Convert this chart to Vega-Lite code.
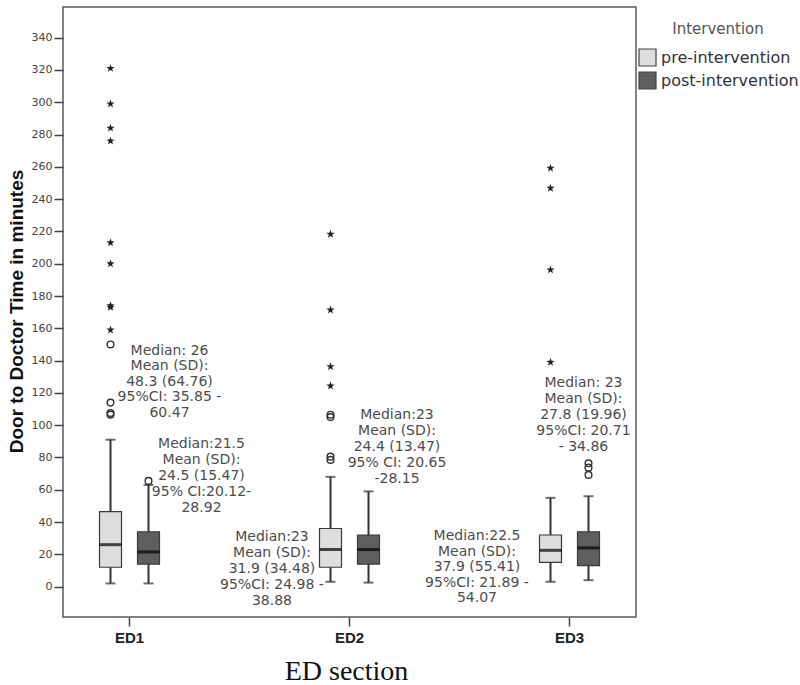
{
  "$schema": "https://vega.github.io/schema/vega-lite/v6.json",
  "width": 573,
  "height": 610,
  "autosize": {"type": "none"},
  "padding": {"left": 63, "top": 7, "right": 164, "bottom": 68},
  "background": "white",
  "config": {
    "view": {"stroke": "#5a5a5a", "strokeWidth": 1.5},
    "font": "DejaVu Sans",
    "axisY": {
      "domain": false,
      "grid": false,
      "tickSize": 9,
      "tickColor": "#444",
      "tickWidth": 1.5,
      "labelFont": "DejaVu Sans",
      "labelFontSize": 11,
      "labelColor": "#444",
      "labelPadding": 2,
      "labelOverlap": false,
      "titleFont": "Liberation Sans",
      "titleFontSize": 19,
      "titleFontWeight": "bold",
      "titleColor": "#111",
      "titleAngle": -90,
      "titleAlign": "center",
      "titleBaseline": "alphabetic",
      "titleX": -41,
      "titleY": 304
    }
  },
  "datasets": {
    "boxes": [
      {"section": "ED1", "group": "pre-intervention", "lo": 2, "q1": 12, "med": 26, "q3": 46.5, "hi": 91},
      {"section": "ED1", "group": "post-intervention", "lo": 2, "q1": 14, "med": 21.5, "q3": 34, "hi": 63},
      {"section": "ED2", "group": "pre-intervention", "lo": 3, "q1": 12, "med": 23, "q3": 36, "hi": 68},
      {"section": "ED2", "group": "post-intervention", "lo": 2.5, "q1": 14, "med": 23, "q3": 32, "hi": 59},
      {"section": "ED3", "group": "pre-intervention", "lo": 3, "q1": 15, "med": 22.5, "q3": 32, "hi": 55},
      {"section": "ED3", "group": "post-intervention", "lo": 4, "q1": 13, "med": 24, "q3": 34, "hi": 56}
    ],
    "outliers": [
      {"section": "ED1", "group": "pre-intervention", "value": 106.5, "kind": "circle"},
      {"section": "ED1", "group": "pre-intervention", "value": 107.5, "kind": "circle"},
      {"section": "ED1", "group": "pre-intervention", "value": 114, "kind": "circle"},
      {"section": "ED1", "group": "pre-intervention", "value": 150, "kind": "circle"},
      {"section": "ED1", "group": "pre-intervention", "value": 159, "kind": "star"},
      {"section": "ED1", "group": "pre-intervention", "value": 173, "kind": "star"},
      {"section": "ED1", "group": "pre-intervention", "value": 174, "kind": "star"},
      {"section": "ED1", "group": "pre-intervention", "value": 200, "kind": "star"},
      {"section": "ED1", "group": "pre-intervention", "value": 213, "kind": "star"},
      {"section": "ED1", "group": "pre-intervention", "value": 276, "kind": "star"},
      {"section": "ED1", "group": "pre-intervention", "value": 284, "kind": "star"},
      {"section": "ED1", "group": "pre-intervention", "value": 299, "kind": "star"},
      {"section": "ED1", "group": "pre-intervention", "value": 321, "kind": "star"},
      {"section": "ED1", "group": "post-intervention", "value": 65.5, "kind": "circle"},
      {"section": "ED2", "group": "pre-intervention", "value": 78.5, "kind": "circle"},
      {"section": "ED2", "group": "pre-intervention", "value": 80.5, "kind": "circle"},
      {"section": "ED2", "group": "pre-intervention", "value": 105, "kind": "circle"},
      {"section": "ED2", "group": "pre-intervention", "value": 106.5, "kind": "circle"},
      {"section": "ED2", "group": "pre-intervention", "value": 124.3, "kind": "star"},
      {"section": "ED2", "group": "pre-intervention", "value": 136.3, "kind": "star"},
      {"section": "ED2", "group": "pre-intervention", "value": 171.4, "kind": "star"},
      {"section": "ED2", "group": "pre-intervention", "value": 218.3, "kind": "star"},
      {"section": "ED3", "group": "pre-intervention", "value": 139, "kind": "star"},
      {"section": "ED3", "group": "pre-intervention", "value": 196.2, "kind": "star"},
      {"section": "ED3", "group": "pre-intervention", "value": 246.8, "kind": "star"},
      {"section": "ED3", "group": "pre-intervention", "value": 259.2, "kind": "star"},
      {"section": "ED3", "group": "post-intervention", "value": 69.2, "kind": "circle"},
      {"section": "ED3", "group": "post-intervention", "value": 73.7, "kind": "circle"},
      {"section": "ED3", "group": "post-intervention", "value": 76.4, "kind": "circle"}
    ],
    "notes": [
      {"id": 1, "section": "ED1", "group": "pre-intervention", "label": "Median: 26\nMean (SD):\n48.3 (64.76)\n95%CI: 35.85 -\n60.47"},
      {"id": 2, "section": "ED1", "group": "post-intervention", "label": "Median:21.5\nMean (SD):\n24.5 (15.47)\n95% CI:20.12-\n28.92"},
      {"id": 3, "section": "ED2", "group": "pre-intervention", "label": "Median:23\nMean (SD):\n31.9 (34.48)\n95%CI: 24.98 -\n38.88"},
      {"id": 4, "section": "ED2", "group": "post-intervention", "label": "Median:23\nMean (SD):\n24.4 (13.47)\n95% CI: 20.65\n-28.15"},
      {"id": 5, "section": "ED3", "group": "pre-intervention", "label": "Median:22.5\nMean (SD):\n37.9 (55.41)\n95%CI: 21.89 -\n54.07"},
      {"id": 6, "section": "ED3", "group": "post-intervention", "label": "Median: 23\nMean (SD):\n27.8 (19.96)\n95%CI: 20.71\n- 34.86"}
    ]
  },
  "encoding": {
    "x": {
      "field": "section",
      "type": "nominal",
      "title": "ED section",
      "scale": {"domain": ["ED1", "ED2", "ED3"], "paddingInner": 0.6, "paddingOuter": 0.1023},
      "axis": {
        "domain": false,
        "grid": false,
        "tickSize": 9,
        "tickColor": "#444",
        "tickWidth": 1.5,
        "labelAngle": 0,
        "labelFont": "Liberation Sans",
        "labelFontWeight": "bold",
        "labelFontSize": 15,
        "labelColor": "#222",
        "labelPadding": 4,
        "titleFont": "Liberation Serif",
        "titleFontSize": 28,
        "titleFontWeight": "normal",
        "titleColor": "#111",
        "titleX": 283,
        "titleY": 62,
        "titleBaseline": "alphabetic"
      }
    },
    "xOffset": {
      "field": "group",
      "type": "nominal",
      "scale": {"domain": ["pre-intervention", "post-intervention"], "paddingInner": 0.4211, "paddingOuter": 0.3684}
    }
  },
  "layer": [
    {
      "data": {"name": "boxes"},
      "mark": {"type": "rule", "color": "#333", "strokeWidth": 2},
      "encoding": {
        "y": {"field": "lo", "type": "quantitative", "title": "Door to Doctor Time in minutes", "scale": {"domain": [-18.8, 359], "nice": false, "zero": false}, "axis": {"values": [0, 20, 40, 60, 80, 100, 120, 140, 160, 180, 200, 220, 240, 260, 280, 300, 320, 340], "labelOverlap": false, "title": "Door to Doctor Time in minutes"}},
        "y2": {"field": "hi"}
      }
    },
    {
      "data": {"name": "boxes"},
      "mark": {"type": "bar", "stroke": "#3a3a3a", "strokeWidth": 1.2},
      "encoding": {
        "y": {"field": "q1", "type": "quantitative", "title": "Door to Doctor Time in minutes", "scale": {"domain": [-18.8, 359], "nice": false, "zero": false}, "axis": {"values": [0, 20, 40, 60, 80, 100, 120, 140, 160, 180, 200, 220, 240, 260, 280, 300, 320, 340], "labelOverlap": false, "title": "Door to Doctor Time in minutes"}},
        "y2": {"field": "q3"},
        "color": {
          "field": "group",
          "type": "nominal",
          "scale": {"domain": ["pre-intervention", "post-intervention"], "range": ["#dedede", "#5e5e5e"]},
          "legend": {
            "title": "Intervention",
            "orient": "none",
            "legendX": 575,
            "legendY": 15,
            "symbolType": "square",
            "symbolSize": 289,
            "symbolStrokeColor": "#444",
            "symbolStrokeWidth": 1.2,
            "labelFont": "DejaVu Sans",
            "labelFontSize": 16,
            "labelColor": "#333",
            "labelOffset": 4,
            "rowPadding": 0,
            "titleFont": "DejaVu Sans",
            "titleFontSize": 15,
            "titleFontWeight": "normal",
            "titleColor": "#555",
            "titleAnchor": "middle",
            "titlePadding": 11
          }
        }
      }
    },
    {
      "data": {"name": "boxes"},
      "mark": {"type": "tick", "color": "#333", "thickness": 2, "size": 10},
      "encoding": {
        "y": {"field": "lo", "type": "quantitative", "title": "Door to Doctor Time in minutes", "scale": {"domain": [-18.8, 359], "nice": false, "zero": false}, "axis": {"values": [0, 20, 40, 60, 80, 100, 120, 140, 160, 180, 200, 220, 240, 260, 280, 300, 320, 340], "labelOverlap": false, "title": "Door to Doctor Time in minutes"}}
      }
    },
    {
      "data": {"name": "boxes"},
      "mark": {"type": "tick", "color": "#333", "thickness": 2, "size": 10},
      "encoding": {
        "y": {"field": "hi", "type": "quantitative", "title": "Door to Doctor Time in minutes", "scale": {"domain": [-18.8, 359], "nice": false, "zero": false}, "axis": {"values": [0, 20, 40, 60, 80, 100, 120, 140, 160, 180, 200, 220, 240, 260, 280, 300, 320, 340], "labelOverlap": false, "title": "Door to Doctor Time in minutes"}}
      }
    },
    {
      "data": {"name": "boxes"},
      "mark": {"type": "tick", "color": "#000", "thickness": 3, "size": 22},
      "encoding": {
        "y": {"field": "med", "type": "quantitative", "title": "Door to Doctor Time in minutes", "scale": {"domain": [-18.8, 359], "nice": false, "zero": false}, "axis": {"values": [0, 20, 40, 60, 80, 100, 120, 140, 160, 180, 200, 220, 240, 260, 280, 300, 320, 340], "labelOverlap": false, "title": "Door to Doctor Time in minutes"}}
      }
    },
    {
      "data": {"name": "outliers"},
      "transform": [{"filter": "datum.kind == 'circle'"}],
      "mark": {"type": "point", "shape": "circle", "filled": false, "stroke": "#333", "strokeWidth": 1.4, "size": 45, "opacity": 1},
      "encoding": {
        "y": {"field": "value", "type": "quantitative", "title": "Door to Doctor Time in minutes", "scale": {"domain": [-18.8, 359], "nice": false, "zero": false}, "axis": {"values": [0, 20, 40, 60, 80, 100, 120, 140, 160, 180, 200, 220, 240, 260, 280, 300, 320, 340], "labelOverlap": false, "title": "Door to Doctor Time in minutes"}}
      }
    },
    {
      "data": {"name": "outliers"},
      "transform": [{"filter": "datum.kind == 'star'"}],
      "mark": {"type": "point", "shape": "M0,-1L0.2351,-0.3236L0.9511,-0.309L0.3804,0.1236L0.5878,0.809L0,0.4L-0.5878,0.809L-0.3804,0.1236L-0.9511,-0.309L-0.2351,-0.3236Z", "filled": true, "color": "#222", "size": 75, "opacity": 1},
      "encoding": {
        "y": {"field": "value", "type": "quantitative", "title": "Door to Doctor Time in minutes", "scale": {"domain": [-18.8, 359], "nice": false, "zero": false}, "axis": {"values": [0, 20, 40, 60, 80, 100, 120, 140, 160, 180, 200, 220, 240, 260, 280, 300, 320, 340], "labelOverlap": false, "title": "Door to Doctor Time in minutes"}}
      }
    },
    {
      "data": {"name": "notes"},
      "transform": [{"filter": "datum.id == 1"}],
      "mark": {"type": "text", "font": "DejaVu Sans", "fontSize": 14, "lineHeight": 15.6, "lineBreak": "\n", "align": "center", "baseline": "middle", "color": "#4d4d4d", "dx": 59},
      "encoding": {
        "y": {"datum": 146.2, "type": "quantitative", "scale": {"domain": [-18.8, 359], "nice": false, "zero": false}, "axis": {"values": [0, 20, 40, 60, 80, 100, 120, 140, 160, 180, 200, 220, 240, 260, 280, 300, 320, 340], "labelOverlap": false, "title": "Door to Doctor Time in minutes"}},
        "text": {"field": "label"}
      }
    },
    {
      "data": {"name": "notes"},
      "transform": [{"filter": "datum.id == 2"}],
      "mark": {"type": "text", "font": "DejaVu Sans", "fontSize": 14, "lineHeight": 16, "lineBreak": "\n", "align": "center", "baseline": "middle", "color": "#4d4d4d", "dx": 53},
      "encoding": {
        "y": {"datum": 88.4, "type": "quantitative", "scale": {"domain": [-18.8, 359], "nice": false, "zero": false}, "axis": {"values": [0, 20, 40, 60, 80, 100, 120, 140, 160, 180, 200, 220, 240, 260, 280, 300, 320, 340], "labelOverlap": false, "title": "Door to Doctor Time in minutes"}},
        "text": {"field": "label"}
      }
    },
    {
      "data": {"name": "notes"},
      "transform": [{"filter": "datum.id == 3"}],
      "mark": {"type": "text", "font": "DejaVu Sans", "fontSize": 14, "lineHeight": 16.2, "lineBreak": "\n", "align": "center", "baseline": "middle", "color": "#4d4d4d", "dx": -58.5},
      "encoding": {
        "y": {"datum": 31.0, "type": "quantitative", "scale": {"domain": [-18.8, 359], "nice": false, "zero": false}, "axis": {"values": [0, 20, 40, 60, 80, 100, 120, 140, 160, 180, 200, 220, 240, 260, 280, 300, 320, 340], "labelOverlap": false, "title": "Door to Doctor Time in minutes"}},
        "text": {"field": "label"}
      }
    },
    {
      "data": {"name": "notes"},
      "transform": [{"filter": "datum.id == 4"}],
      "mark": {"type": "text", "font": "DejaVu Sans", "fontSize": 14, "lineHeight": 16.1, "lineBreak": "\n", "align": "center", "baseline": "middle", "color": "#4d4d4d", "dx": 28.5},
      "encoding": {
        "y": {"datum": 106.4, "type": "quantitative", "scale": {"domain": [-18.8, 359], "nice": false, "zero": false}, "axis": {"values": [0, 20, 40, 60, 80, 100, 120, 140, 160, 180, 200, 220, 240, 260, 280, 300, 320, 340], "labelOverlap": false, "title": "Door to Doctor Time in minutes"}},
        "text": {"field": "label"}
      }
    },
    {
      "data": {"name": "notes"},
      "transform": [{"filter": "datum.id == 5"}],
      "mark": {"type": "text", "font": "DejaVu Sans", "fontSize": 14, "lineHeight": 15.6, "lineBreak": "\n", "align": "center", "baseline": "middle", "color": "#4d4d4d", "dx": -73.5},
      "encoding": {
        "y": {"datum": 31.4, "type": "quantitative", "scale": {"domain": [-18.8, 359], "nice": false, "zero": false}, "axis": {"values": [0, 20, 40, 60, 80, 100, 120, 140, 160, 180, 200, 220, 240, 260, 280, 300, 320, 340], "labelOverlap": false, "title": "Door to Doctor Time in minutes"}},
        "text": {"field": "label"}
      }
    },
    {
      "data": {"name": "notes"},
      "transform": [{"filter": "datum.id == 6"}],
      "mark": {"type": "text", "font": "DejaVu Sans", "fontSize": 14, "lineHeight": 15.9, "lineBreak": "\n", "align": "center", "baseline": "middle", "color": "#4d4d4d", "dx": -5},
      "encoding": {
        "y": {"datum": 126.0, "type": "quantitative", "scale": {"domain": [-18.8, 359], "nice": false, "zero": false}, "axis": {"values": [0, 20, 40, 60, 80, 100, 120, 140, 160, 180, 200, 220, 240, 260, 280, 300, 320, 340], "labelOverlap": false, "title": "Door to Doctor Time in minutes"}},
        "text": {"field": "label"}
      }
    }
  ]
}
